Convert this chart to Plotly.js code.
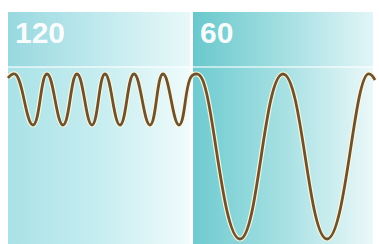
<!DOCTYPE html>
<html>
<head>
<meta charset="utf-8">
<script src="https://cdn.plot.ly/plotly-3.0.1.min.js"></script>
<style>
  html, body { margin: 0; padding: 0; background: #ffffff; }
  #chart { width: 379px; height: 244px; }
</style>
</head>
<body>
<div id="chart"></div>
<script>
// Two regions (labels) and their horizontal extents
var regionLabels = ["120", "60"];
var regionStart = [8, 193];
var regionEnd = [190, 373];

// Waveform: x position and level (0 = crest)
var waveX = [8, 15, 33, 47, 63, 77, 92, 105, 120, 134, 150, 163, 179, 191, 196, 201, 240, 283, 327, 368, 375];
var waveY = [-4, 0, -51, 0, -51, 0, -51, 0, -51, 0, -51, 0, -51, -3, 0, -3, -165, 0, -165, 0, -6];

// Vertical bounds of the panels (level units)
var panelTop = 62, headerBottom = 7, panelBottom = -170;

var bodyScales = [
  [[0, "#a9e2e7"], [0.5, "#c6edf0"], [1, "#f0fbfc"]],
  [[0, "#6ecbd0"], [0.5, "#a6e0e3"], [1, "#ebf8f9"]]
];
var headScales = [
  [[0, "#98d8df"], [0.55, "#c4ebef"], [1, "#e8f8f9"]],
  [[0, "#69c8cc"], [0.55, "#a9e1e4"], [1, "#e2f5f7"]]
];

var traces = [];
for (var i = 0; i < regionLabels.length; i++) {
  var x0 = regionStart[i], x1 = regionEnd[i];
  traces.push({
    type: "scatter", mode: "lines",
    x: [x0, x1, x1, x0, x0],
    y: [panelBottom, panelBottom, headerBottom, headerBottom, panelBottom],
    fill: "toself",
    fillgradient: {type: "horizontal", colorscale: bodyScales[i]},
    line: {width: 0}, hoverinfo: "skip", showlegend: false
  });
  traces.push({
    type: "scatter", mode: "lines",
    x: [x0, x1, x1, x0, x0],
    y: [headerBottom, headerBottom, panelTop, panelTop, headerBottom],
    fill: "toself",
    fillgradient: {type: "horizontal", colorscale: headScales[i]},
    line: {width: 0}, hoverinfo: "skip", showlegend: false
  });
}

// light halo under the wave
traces.push({
  type: "scatter", mode: "lines", x: waveX, y: waveY,
  line: {color: "rgba(255,246,215,0.95)", width: 5.2, shape: "spline", smoothing: 1.3},
  hoverinfo: "skip", showlegend: false
});
// brown wave
traces.push({
  type: "scatter", mode: "lines", x: waveX, y: waveY,
  line: {color: "#6a5232", width: 2.8, shape: "spline", smoothing: 1.3},
  hoverinfo: "skip", showlegend: false
});

var annotations = regionLabels.map(function (lab, i) {
  return {
    x: regionStart[i] + 5, y: 42, xref: "x", yref: "y",
    xanchor: "left", yanchor: "middle",
    text: lab, showarrow: false,
    font: {family: "Liberation Sans, Arial, sans-serif", size: 30, color: "rgba(255,255,255,0.95)", weight: "bold"}
  };
});

var shapes = regionLabels.map(function (lab, i) {
  return {
    type: "line", xref: "x", yref: "y",
    x0: regionStart[i], x1: regionEnd[i], y0: headerBottom, y1: headerBottom,
    line: {color: "rgba(255,255,255,0.75)", width: 1.5}, layer: "above"
  };
});

var layout = {
  width: 379, height: 244,
  margin: {l: 0, r: 0, t: 0, b: 0, pad: 0},
  paper_bgcolor: "#ffffff", plot_bgcolor: "#ffffff",
  xaxis: {range: [0, 379], visible: false, fixedrange: true},
  yaxis: {range: [-170, 74], visible: false, fixedrange: true},
  annotations: annotations,
  shapes: shapes,
  showlegend: false
};

Plotly.newPlot("chart", traces, layout, {staticPlot: true, displayModeBar: false});
</script>
</body>
</html>
